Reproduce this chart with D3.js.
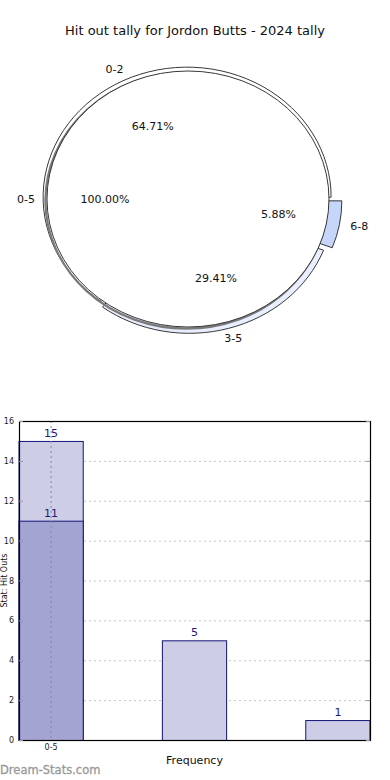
<!DOCTYPE html>
<html>
<head>
<meta charset="utf-8">
<script src="https://cdn.jsdelivr.net/npm/d3@7"></script>
<style>
    body { margin: 0; background: #fff; }
    svg { display: block; font-family: "DejaVu Sans", sans-serif; }
</style>
</head>
<body>
<div class="chart"></div>
<script>
var chartTitle = "Hit out tally for Jordon Butts - 2024 tally";

// pie: ranges and their share
var sliceLabels = ["0-2", "3-5", "6-8"];
var sliceValues = [64.71, 29.41, 5.88];
var totalLabels = ["0-5"];
var totalValues = [100.00];

// bars
var barCategories = ["0-5", "3-5", "6-8"];
var frequencyValues = [15, 5, 1];
var innerValues = [11, null, null];
var xTickLabels = ["0-5"];
var yTicks = [0, 2, 4, 6, 8, 10, 12, 14, 16];
var xTitle = "Frequency";
var yTitle = "Stat: Hit Outs";

var W = 390, H = 780;

var svg = d3.select('.chart')
    .append('svg')
    .attr('width', W)
    .attr('height', H);

svg.append('text')
    .attr('x', 195)
    .attr('y', 35)
    .attr('text-anchor', 'middle')
    .attr('font-size', 13)
    .attr('fill', '#111')
    .text(chartTitle);

drawPie();
drawBars();

svg.append('text')
    .attr('x', 0)
    .attr('y', 774)
    .attr('font-size', 11.5)
    .attr('fill', '#999')
    .attr('stroke', '#999')
    .attr('stroke-width', 0.3)
    .text("Dream-Stats.com");


function drawPie() {
    var cx = 188, cy = 199;
    var sliceR = {x: 144, y: 130};
    var totalR = {x: 141, y: 128};
    var explode = [2, 4.5, 10];
    var sliceColours = ["#ffffff", "#e9efff", "#c6d6fb"];

    // counter-clockwise from 3 o'clock
    var pie = d3.pie()
        .sort(null)
        .startAngle(Math.PI / 2)
        .endAngle(Math.PI / 2 - 2 * Math.PI);

    var unitArc = d3.arc().innerRadius(0).outerRadius(1);

    var slices = pie(sliceValues);

    function mid(d) {
        return (d.startAngle + d.endAngle) / 2;
    }

    var g = svg.append('g');

    slices.forEach(function (d, i) {
        var a = mid(d);
        var dx = Math.sin(a) * explode[i];
        var dy = -Math.cos(a) * explode[i];
        g.append('path')
            .attr('d', unitArc(d))
            .attr('transform', 'translate(' + (cx + dx) + ',' + (cy + dy) + ') scale(' + sliceR.x + ',' + sliceR.y + ')')
            .attr('fill', sliceColours[i])
            .attr('stroke', '#222')
            .attr('stroke-width', 0.9)
            .attr('vector-effect', 'non-scaling-stroke');
    });

    var total = pie(totalValues);

    // rim shadow
    g.append('path')
        .attr('d', unitArc(total[0]))
        .attr('transform', 'translate(' + (cx - 1.6) + ',' + (cy + 1.6) + ') scale(' + totalR.x + ',' + totalR.y + ')')
        .attr('fill', 'none')
        .attr('stroke', '#7a7a7a')
        .attr('stroke-width', 2.2)
        .attr('vector-effect', 'non-scaling-stroke');

    g.append('path')
        .attr('d', unitArc(total[0]))
        .attr('transform', 'translate(' + cx + ',' + cy + ') scale(' + totalR.x + ',' + totalR.y + ')')
        .attr('fill', '#ffffff')
        .attr('stroke', '#222')
        .attr('stroke-width', 0.9)
        .attr('vector-effect', 'non-scaling-stroke');

    var labelR = {x: 165, y: 145};
    var pctR = {x: 88, y: 82};
    var pctShift = 4;

    function anchor(a) {
        var s = Math.sin(a);
        if (s > 0.5) return 'start';
        if (s < -0.5) return 'end';
        return 'middle';
    }

    slices.concat(total).forEach(function (d, i) {
        var a = mid(d);
        var isTotal = i >= slices.length;
        var name = isTotal ? totalLabels[0] : sliceLabels[i];
        var val = isTotal ? totalValues[0] : sliceValues[i];
        var lr = isTotal ? {x: 153, y: 145} : labelR;
        var pr = isTotal ? {x: 87, y: 82} : pctR;
        g.append('text')
            .attr('x', cx + Math.sin(a) * lr.x)
            .attr('y', cy - Math.cos(a) * lr.y + 4)
            .attr('text-anchor', anchor(a))
            .attr('font-size', 11)
            .attr('fill', '#111')
            .text(name);
        g.append('text')
            .attr('x', cx + pctShift + Math.sin(a) * pr.x)
            .attr('y', cy - Math.cos(a) * pr.y + 4)
            .attr('text-anchor', 'middle')
            .attr('font-size', 11)
            .attr('fill', '#111')
            .text(val.toFixed(2) + '%');
    });
}


function drawBars() {
    var margins = {left: 19, right: 20, top: 421, bottom: 40};
    var x0 = margins.left, x1 = W - margins.right;
    var y0 = H - margins.bottom, y1 = margins.top;

    var xScale = d3.scaleBand()
        .domain(barCategories)
        .range([x0, x1])
        .paddingInner(0.552)
        .paddingOuter(0);

    var yScale = d3.scaleLinear()
        .domain([0, 16])
        .range([y0, y1]);

    var g = svg.append('g');

    // grid
    g.selectAll('.hgrid')
        .data(yTicks.filter(function (t) { return t > 0 && t < 16; }))
        .enter()
        .append('line')
        .attr('x1', x0)
        .attr('x2', x1)
        .attr('y1', function (d) { return yScale(d) + 0.5; })
        .attr('y2', function (d) { return yScale(d) + 0.5; })
        .attr('stroke', '#c4c4c4')
        .attr('stroke-dasharray', '2,3');

    var bars = [
        {values: frequencyValues, fill: '#cdcde6'},
        {values: innerValues, fill: '#a3a4d1'}
    ];

    bars.forEach(function (s) {
        barCategories.forEach(function (c, i) {
            var v = s.values[i];
            if (v == null) return;
            g.append('rect')
                .attr('x', xScale(c))
                .attr('y', yScale(v) + 0.5)
                .attr('width', xScale.bandwidth())
                .attr('height', yScale(0) - yScale(v))
                .attr('fill', s.fill)
                .attr('stroke', '#14147a')
                .attr('stroke-width', 1);
            g.append('text')
                .attr('x', xScale(c) + xScale.bandwidth() / 2)
                .attr('y', yScale(v) - 4)
                .attr('text-anchor', 'middle')
                .attr('font-size', 11)
                .attr('fill', '#1a1a80')
                .text(v);
        });
    });

    // vertical grid at labelled category
    g.selectAll('.vgrid')
        .data(xTickLabels)
        .enter()
        .append('line')
        .attr('x1', function (d) { return xScale(d) + xScale.bandwidth() / 2; })
        .attr('x2', function (d) { return xScale(d) + xScale.bandwidth() / 2; })
        .attr('y1', y1)
        .attr('y2', y0)
        .attr('stroke', '#8888a0')
        .attr('stroke-dasharray', '2,3');

    // frame
    g.append('rect')
        .attr('x', x0 + 0.5)
        .attr('y', y1 + 0.5)
        .attr('width', x1 - x0)
        .attr('height', y0 - y1)
        .attr('fill', 'none')
        .attr('stroke', '#000')
        .attr('stroke-width', 1.2);

    var yAxis = d3.axisLeft(yScale)
        .tickValues(yTicks)
        .tickSize(0)
        .tickPadding(5);

    var ya = g.append('g')
        .attr('transform', 'translate(' + x0 + ',0)')
        .call(yAxis);
    ya.select('.domain').remove();
    ya.selectAll('text')
        .attr('font-size', 8)
        .attr('font-family', '"DejaVu Sans", sans-serif')
        .attr('fill', '#222');

    // small tick marks on both sides
    yTicks.forEach(function (t) {
        [x0, x1 - 4].forEach(function (xx) {
            g.append('line')
                .attr('x1', xx)
                .attr('x2', xx + 4)
                .attr('y1', yScale(t) + 0.5)
                .attr('y2', yScale(t) + 0.5)
                .attr('stroke', '#999');
        });
    });

    var xAxis = d3.axisBottom(xScale)
        .tickValues(xTickLabels)
        .tickSize(0)
        .tickPadding(4);

    var xa = g.append('g')
        .attr('transform', 'translate(0,' + y0 + ')')
        .call(xAxis);
    xa.select('.domain').remove();
    xa.selectAll('text')
        .attr('font-size', 8)
        .attr('font-family', '"DejaVu Sans", sans-serif')
        .attr('fill', '#222');

    g.append('text')
        .attr('x', (x0 + x1) / 2)
        .attr('y', 764)
        .attr('text-anchor', 'middle')
        .attr('font-size', 11)
        .attr('fill', '#111')
        .text(xTitle);

    g.append('text')
        .attr('transform', 'translate(7,' + ((y0 + y1) / 2) + ') rotate(-90)')
        .attr('text-anchor', 'middle')
        .attr('font-size', 8)
        .attr('fill', '#111')
        .text(yTitle);
}
</script>
</body>
</html>
